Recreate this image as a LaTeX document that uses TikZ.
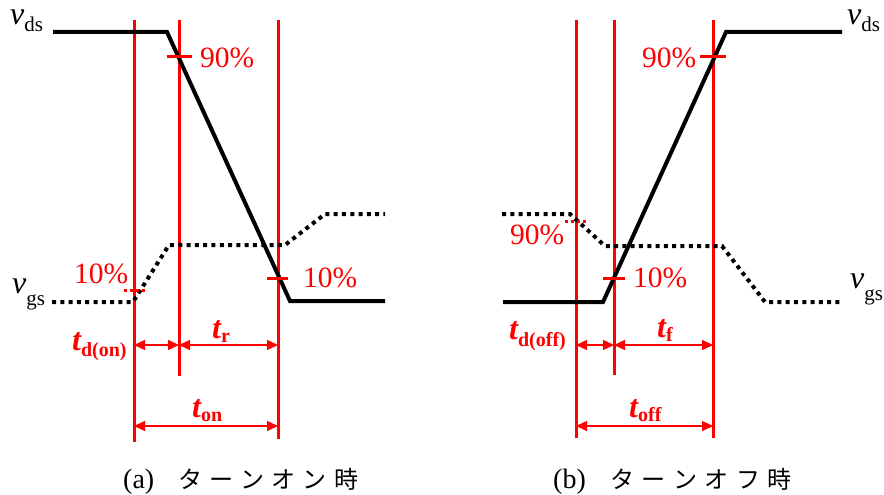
\documentclass[tikz,border=0pt]{standalone}
\usepackage{fontspec}
\setmainfont{Liberation Serif}
\newfontfamily\tnr{Liberation Serif}
\newfontfamily\cjk{Noto Sans CJK JP}
\usetikzlibrary{arrows.meta}
\newcommand\vsig[2]{{\tnr\fontsize{32}{32}\selectfont\itshape v}\raisebox{-#2}{\tnr\fontsize{21}{21}\selectfont #1}}
\newcommand\tsym[2]{{\tnr\fontsize{32}{32}\selectfont\bfseries\itshape t}\raisebox{-#2}{\tnr\fontsize{20}{20}\selectfont\bfseries #1}}
\newcommand\kana[2]{\makebox[#1]{#2}}
\begin{document}
\begin{tikzpicture}[x=1pt,y=-1pt,
  wave/.style={line width=4pt,black},
  gate/.style={line width=4pt,black,dash pattern=on 4pt off 4.3pt},
  redline/.style={red,line width=3pt},
  tickline/.style={red,line width=3pt},
  smalltick/.style={red,line width=3pt,dash pattern=on 3pt off 3pt},
  dimarrow/.style={red,line width=1.3pt,{Triangle[length=11pt,width=10pt]}-{Triangle[length=11pt,width=10pt]}},
  pct/.style={red,font=\tnr\fontsize{29.5}{30}\selectfont,inner sep=0pt,anchor=base west},
  tlab/.style={red,inner sep=0pt,anchor=base west},
  vlab/.style={inner sep=0pt,anchor=base west},
  captext/.style={inner sep=0pt,anchor=base west},
]
\useasboundingbox (0,0) rectangle (884,495);

% ---------------- (a) turn-on ----------------
\coordinate (a1t) at (134,20); \coordinate (a1b) at (134,442);
\coordinate (a2t) at (179,20); \coordinate (a2b) at (179,376);
\coordinate (a3t) at (278,20); \coordinate (a3b) at (278,439);
\draw[redline] (a1t) -- (a1b);
\draw[redline] (a2t) -- (a2b);
\draw[redline] (a3t) -- (a3b);

\coordinate (avds0) at (53,32); \coordinate (avds1) at (167,32);
\coordinate (avds2) at (290,301); \coordinate (avds3) at (385,301);
\draw[wave] (avds0) -- (avds1) -- (avds2) -- (avds3);
\coordinate (avgs0) at (52,302); \coordinate (avgs1) at (133,302);
\coordinate (avgs2) at (169,245); \coordinate (avgs3) at (285,245);
\coordinate (avgs4) at (325,214); \coordinate (avgs5) at (385,214);
\draw[gate] (avgs0) -- (avgs1) -- (avgs2) -- (avgs3) -- (avgs4) -- (avgs5);

\coordinate (at90a) at (167,57); \coordinate (at90b) at (192,57);
\draw[tickline] (at90a) -- (at90b);
\coordinate (at10a) at (267,278); \coordinate (at10b) at (288,278);
\draw[tickline] (at10a) -- (at10b);
\coordinate (ag10a) at (124,290); \coordinate (ag10b) at (147,290);
\draw[smalltick] (ag10a) -- (ag10b);

\node[pct] (ap90) at (200,67) {90\%};
\node[pct] (ap10r) at (303,287) {10\%};
\node[pct] (ap10l) at (74,283) {10\%};

\node[vlab] (avds) at (10,25) {\vsig{ds}{7pt}};
\node[vlab] (avgs) at (12,293) {\vsig{gs}{12pt}};

\coordinate (ad1) at (134,345); \coordinate (ad2) at (179,345); \coordinate (ad3) at (278,345);
\coordinate (ao1) at (134,426); \coordinate (ao3) at (278,426);
\draw[dimarrow] (ad1) -- (ad2);
\draw[dimarrow] (ad2) -- (ad3);
\draw[dimarrow] (ao1) -- (ao3);
\node[tlab] (atdon) at (72,350) {\tsym{d(on)}{6pt}};
\node[tlab] (atr) at (212,338) {\tsym{r}{4pt}};
\node[tlab] (aton) at (192,417) {\tsym{on}{4pt}};

\node[captext] (capa) at (123,488) {\tnr\fontsize{28}{28}\selectfont (a)};
\node[captext] (capak) at (174.4,488) {\cjk\fontsize{24}{24}\selectfont
  \kana{31.2pt}{タ}\kana{31.2pt}{ー}\kana{31.2pt}{ン}\kana{31.2pt}{オ}\kana{31.2pt}{ン}\kana{31.2pt}{時}};

% ---------------- (b) turn-off ----------------
\coordinate (b1t) at (576,20); \coordinate (b1b) at (576,438);
\coordinate (b2t) at (614,20); \coordinate (b2b) at (614,375);
\coordinate (b3t) at (713,20); \coordinate (b3b) at (713,438);
\draw[redline] (b1t) -- (b1b);
\draw[redline] (b2t) -- (b2b);
\draw[redline] (b3t) -- (b3b);

\coordinate (bvds0) at (503,302); \coordinate (bvds1) at (603,302);
\coordinate (bvds2) at (726,32); \coordinate (bvds3) at (842,32);
\draw[wave] (bvds0) -- (bvds1) -- (bvds2) -- (bvds3);
\coordinate (bvgs0) at (502,214); \coordinate (bvgs1) at (570,214);
\coordinate (bvgs2) at (605,246); \coordinate (bvgs3) at (722,246);
\coordinate (bvgs4) at (765,302); \coordinate (bvgs5) at (843,302);
\draw[gate] (bvgs0) -- (bvgs1) -- (bvgs2) -- (bvgs3) -- (bvgs4) -- (bvgs5);

\coordinate (bt90a) at (700,57); \coordinate (bt90b) at (726,57);
\draw[tickline] (bt90a) -- (bt90b);
\coordinate (bt10a) at (603,278); \coordinate (bt10b) at (625,278);
\draw[tickline] (bt10a) -- (bt10b);
\coordinate (bg90a) at (565,221); \coordinate (bg90b) at (589,221);
\draw[smalltick] (bg90a) -- (bg90b);

\node[pct] (bp90) at (642,67) {90\%};
\node[pct] (bp10) at (633,287) {10\%};
\node[pct] (bp90l) at (510,244) {90\%};

\node[vlab] (bvds) at (847,25) {\vsig{ds}{7pt}};
\node[vlab] (bvgs) at (850,288) {\vsig{gs}{12pt}};

\coordinate (bd1) at (576,345); \coordinate (bd2) at (614,345); \coordinate (bd3) at (713,345);
\coordinate (bo1) at (576,426); \coordinate (bo3) at (713,426);
\draw[dimarrow] (bd1) -- (bd2);
\draw[dimarrow] (bd2) -- (bd3);
\draw[dimarrow] (bo1) -- (bo3);
\node[tlab] (btdoff) at (509,339) {\tsym{d(off)}{7pt}};
\node[tlab] (btf) at (657,337) {\tsym{f}{4pt}};
\node[tlab] (btoff) at (629,417) {\tsym{off}{4pt}};

\node[captext] (capb) at (553,488) {\tnr\fontsize{28}{28}\selectfont (b)};
\node[captext] (capbk) at (606,488) {\cjk\fontsize{24}{24}\selectfont
  \kana{31.6pt}{タ}\kana{31.6pt}{ー}\kana{31.6pt}{ン}\kana{31.6pt}{オ}\kana{31.6pt}{フ}\kana{31.6pt}{時}};
\end{tikzpicture}
\end{document}
